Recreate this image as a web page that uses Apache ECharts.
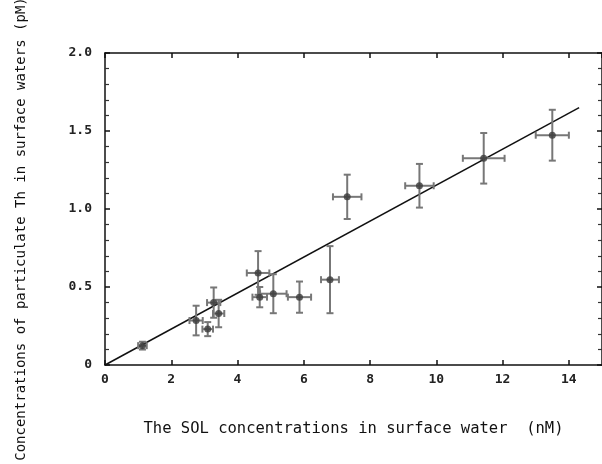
<!DOCTYPE html>
<html>
<head>
<meta charset="utf-8">
<script src="https://cdn.jsdelivr.net/npm/echarts@6/dist/echarts.min.js"></script>
<style>html,body{margin:0;padding:0;background:#fff}#c{width:602px;height:464px}</style>
</head>
<body>
<div id="c"></div>
<script>
// SOL concentration (nM) and particulate Th (pM)
const solX  = [1.13, 2.75, 3.10, 3.28, 3.43, 4.62, 4.67, 5.08, 5.87, 6.79, 7.31, 9.49, 11.43, 13.50];
const thY   = [0.124, 0.285, 0.23, 0.40, 0.33, 0.59, 0.435, 0.457, 0.435, 0.547, 1.078, 1.149, 1.325, 1.473];
const xErr  = [0.13, 0.20, 0.16, 0.20, 0.17, 0.34, 0.22, 0.40, 0.35, 0.27, 0.43, 0.43, 0.63, 0.50];
const yErr  = [0.025, 0.095, 0.045, 0.097, 0.088, 0.14, 0.065, 0.125, 0.10, 0.215, 0.142, 0.14, 0.162, 0.163];
const fitX  = [0, 14.31];
const fitY  = [0, 1.65];
const xTitle = 'The SOL concentrations in surface water  (nM)';
const yTitle = 'Concentrations of particulate Th in surface waters (pM)';

const points = solX.map((x, i) => [x, thY[i]]);
const errData = solX.map((x, i) => [x, thY[i], xErr[i], yErr[i]]);
const fitData = fitX.map((x, i) => [x, fitY[i]]);

const mono = '"DejaVu Sans Mono", "Liberation Mono", monospace';
const axisLineStyle = { color: '#111', width: 1.5 };
const tickStyle = { color: '#111', width: 1.5 };

const chart = echarts.init(document.getElementById('c'), null, { renderer: 'canvas' });
chart.setOption({
  animation: false,
  backgroundColor: '#fff',
  grid: { left: 105, right: 0, top: 53, bottom: 99, containLabel: false },
  xAxis: [
    {
      type: 'value', position: 'bottom', min: 0, max: 15, interval: 2,
      name: xTitle, nameLocation: 'middle', nameGap: 56,
      nameTextStyle: { fontFamily: mono, fontSize: 15.5, color: '#111' },
      axisLine: { show: true, onZero: false, lineStyle: axisLineStyle },
      axisTick: { show: true, inside: true, length: 5, lineStyle: tickStyle },
      axisLabel: { showMaxLabel: false, margin: 8, fontFamily: mono, fontWeight: 'bold', fontSize: 13, color: '#222' },
      splitLine: { show: false }
    },
    {
      type: 'value', position: 'top', min: 0, max: 15, interval: 2,
      axisLine: { show: true, onZero: false, lineStyle: axisLineStyle },
      axisTick: { show: true, inside: true, length: 5, lineStyle: tickStyle },
      axisLabel: { show: false },
      splitLine: { show: false }
    }
  ],
  yAxis: [
    {
      type: 'value', position: 'left', min: 0, max: 2, interval: 0.5,
      axisLine: { show: true, onZero: false, lineStyle: axisLineStyle },
      axisTick: { show: true, inside: true, length: 5, lineStyle: tickStyle },
      minorTick: { show: true, splitNumber: 5, length: 4, lineStyle: { color: '#333', width: 1.2 } },
      axisLabel: { margin: 13, fontFamily: mono, fontWeight: 'bold', fontSize: 13, color: '#222',
        formatter: v => v === 0 ? '0' : v.toFixed(1) },
      splitLine: { show: false }, minorSplitLine: { show: false }
    },
    {
      type: 'value', position: 'right', min: 0, max: 2, interval: 0.5,
      axisLine: { show: true, onZero: false, lineStyle: axisLineStyle },
      axisTick: { show: true, inside: true, length: 5, lineStyle: tickStyle },
      minorTick: { show: true, splitNumber: 5, length: 4, lineStyle: { color: '#333', width: 1.2 } },
      axisLabel: { show: false },
      splitLine: { show: false }, minorSplitLine: { show: false }
    }
  ],
  graphic: [{
    type: 'text',
    position: [21, 229], rotation: Math.PI / 2,
    style: { text: yTitle, fontFamily: mono, fontSize: 14, fill: '#111', textAlign: 'center', textVerticalAlign: 'middle' },
    silent: true
  }],
  series: [
    {
      type: 'line', data: fitData, showSymbol: false, symbol: 'none',
      lineStyle: { color: '#111', width: 1.5 }, z: 2
    },
    {
      type: 'custom', data: errData, z: 3,
      renderItem: function (params, api) {
        const x = api.value(0), y = api.value(1), dx = api.value(2), dy = api.value(3);
        const l = api.coord([x - dx, y]), r = api.coord([x + dx, y]);
        const b = api.coord([x, y - dy]), t = api.coord([x, y + dy]);
        const cap = 3.5;
        const st = { stroke: '#777', lineWidth: 2 };
        const line = (x1, y1, x2, y2) => ({ type: 'line', shape: { x1, y1, x2, y2 }, style: st });
        return {
          type: 'group',
          children: [
            line(l[0], l[1], r[0], r[1]),
            line(l[0], l[1] - cap, l[0], l[1] + cap),
            line(r[0], r[1] - cap, r[0], r[1] + cap),
            line(b[0], b[1], t[0], t[1]),
            line(b[0] - cap, b[1], b[0] + cap, b[1]),
            line(t[0] - cap, t[1], t[0] + cap, t[1])
          ]
        };
      }
    },
    {
      type: 'scatter', data: points, symbol: 'circle', symbolSize: 7,
      itemStyle: { color: '#3a3a3a' }, z: 4
    }
  ]
});
</script>
</body>
</html>
